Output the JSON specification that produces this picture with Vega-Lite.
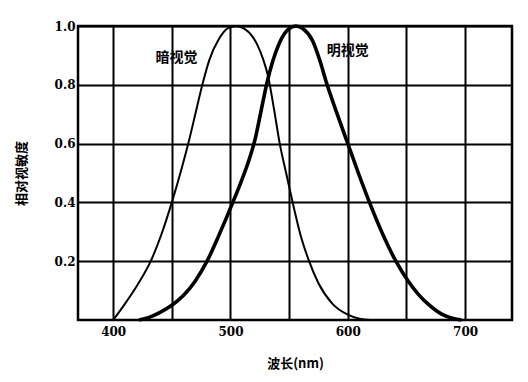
{
  "$schema": "https://vega.github.io/schema/vega-lite/v6.json",
  "width": 434,
  "height": 294,
  "autosize": {"type": "none"},
  "padding": {"left": 78, "top": 26, "right": 16, "bottom": 62},
  "background": "white",
  "config": {
    "view": {"stroke": "black", "strokeWidth": 2.5},
    "axis": {
      "domain": false,
      "ticks": false,
      "gridColor": "black",
      "gridOpacity": 1,
      "gridWidth": 2,
      "labelFont": "DejaVu Serif",
      "labelFontWeight": "bold",
      "labelFontSize": 12,
      "labelColor": "black",
      "titleFont": "Noto Sans CJK SC",
      "titleFontWeight": "bold",
      "titleFontSize": 13,
      "titleColor": "black"
    }
  },
  "layer": [
    {
      "data": {
        "values": [
          {"wl": 400, "v": 0, "curve": "暗视觉"},
          {"wl": 410, "v": 0.055, "curve": "暗视觉"},
          {"wl": 420, "v": 0.115, "curve": "暗视觉"},
          {"wl": 432, "v": 0.2, "curve": "暗视觉"},
          {"wl": 441, "v": 0.29, "curve": "暗视觉"},
          {"wl": 450, "v": 0.4, "curve": "暗视觉"},
          {"wl": 458, "v": 0.51, "curve": "暗视觉"},
          {"wl": 464, "v": 0.6, "curve": "暗视觉"},
          {"wl": 470, "v": 0.7, "curve": "暗视觉"},
          {"wl": 476, "v": 0.8, "curve": "暗视觉"},
          {"wl": 482, "v": 0.885, "curve": "暗视觉"},
          {"wl": 490, "v": 0.955, "curve": "暗视觉"},
          {"wl": 498, "v": 0.993, "curve": "暗视觉"},
          {"wl": 505, "v": 1.0, "curve": "暗视觉"},
          {"wl": 512, "v": 0.99, "curve": "暗视觉"},
          {"wl": 518, "v": 0.968, "curve": "暗视觉"},
          {"wl": 523, "v": 0.935, "curve": "暗视觉"},
          {"wl": 528, "v": 0.885, "curve": "暗视觉"},
          {"wl": 532, "v": 0.83, "curve": "暗视觉"},
          {"wl": 537, "v": 0.72, "curve": "暗视觉"},
          {"wl": 542, "v": 0.6, "curve": "暗视觉"},
          {"wl": 548, "v": 0.49, "curve": "暗视觉"},
          {"wl": 553, "v": 0.4, "curve": "暗视觉"},
          {"wl": 560, "v": 0.285, "curve": "暗视觉"},
          {"wl": 567, "v": 0.2, "curve": "暗视觉"},
          {"wl": 575, "v": 0.125, "curve": "暗视觉"},
          {"wl": 587, "v": 0.055, "curve": "暗视觉"},
          {"wl": 600, "v": 0.018, "curve": "暗视觉"},
          {"wl": 610, "v": 0.004, "curve": "暗视觉"},
          {"wl": 619, "v": 0, "curve": "暗视觉"},
          {"wl": 422, "v": 0, "curve": "明视觉"},
          {"wl": 430, "v": 0.008, "curve": "明视觉"},
          {"wl": 440, "v": 0.026, "curve": "明视觉"},
          {"wl": 450, "v": 0.05, "curve": "明视觉"},
          {"wl": 460, "v": 0.084, "curve": "明视觉"},
          {"wl": 470, "v": 0.133, "curve": "明视觉"},
          {"wl": 480, "v": 0.2, "curve": "明视觉"},
          {"wl": 490, "v": 0.287, "curve": "明视觉"},
          {"wl": 502, "v": 0.4, "curve": "明视觉"},
          {"wl": 510, "v": 0.48, "curve": "明视觉"},
          {"wl": 515, "v": 0.535, "curve": "明视觉"},
          {"wl": 521, "v": 0.615, "curve": "明视觉"},
          {"wl": 526, "v": 0.71, "curve": "明视觉"},
          {"wl": 531, "v": 0.805, "curve": "明视觉"},
          {"wl": 536, "v": 0.88, "curve": "明视觉"},
          {"wl": 542, "v": 0.945, "curve": "明视觉"},
          {"wl": 549, "v": 0.988, "curve": "明视觉"},
          {"wl": 556, "v": 1.0, "curve": "明视觉"},
          {"wl": 562, "v": 0.99, "curve": "明视觉"},
          {"wl": 570, "v": 0.95, "curve": "明视觉"},
          {"wl": 576, "v": 0.885, "curve": "明视觉"},
          {"wl": 582, "v": 0.805, "curve": "明视觉"},
          {"wl": 591, "v": 0.7, "curve": "明视觉"},
          {"wl": 600, "v": 0.6, "curve": "明视觉"},
          {"wl": 609, "v": 0.5, "curve": "明视觉"},
          {"wl": 619, "v": 0.395, "curve": "明视觉"},
          {"wl": 630, "v": 0.29, "curve": "明视觉"},
          {"wl": 641, "v": 0.2, "curve": "明视觉"},
          {"wl": 651, "v": 0.135, "curve": "明视觉"},
          {"wl": 660, "v": 0.088, "curve": "明视觉"},
          {"wl": 669, "v": 0.052, "curve": "明视觉"},
          {"wl": 680, "v": 0.02, "curve": "明视觉"},
          {"wl": 690, "v": 0.005, "curve": "明视觉"},
          {"wl": 697, "v": 0, "curve": "明视觉"}
        ]
      },
      "mark": {"type": "line", "interpolate": "monotone", "color": "black"},
      "encoding": {
        "x": {
          "field": "wl",
          "type": "quantitative",
          "scale": {"domain": [370, 740], "nice": false, "zero": false},
          "axis": {
            "values": [400, 450, 500, 550, 600, 650, 700],
            "labelExpr": "datum.value % 100 == 0 ? datum.label : ''",
            "labelPadding": 6,
            "title": "波长(nm)",
            "titlePadding": 20
          }
        },
        "y": {
          "field": "v",
          "type": "quantitative",
          "scale": {"domain": [0, 1], "nice": false},
          "axis": {
            "values": [0.2, 0.4, 0.6, 0.8, 1.0],
            "format": ".1f",
            "labelPadding": 3,
            "title": "相对视敏度",
            "titlePadding": 26
          }
        },
        "detail": {"field": "curve"},
        "strokeWidth": {
          "field": "curve",
          "type": "nominal",
          "scale": {"domain": ["暗视觉", "明视觉"], "range": [2, 3.6]},
          "legend": null
        }
      }
    },
    {
      "data": {
        "values": [
          {"wl": 454, "v": 0.89, "label": "暗视觉"},
          {"wl": 600, "v": 0.915, "label": "明视觉"}
        ]
      },
      "mark": {"type": "text", "font": "Noto Sans CJK SC", "fontSize": 14, "fontWeight": "bold", "color": "black"},
      "encoding": {
        "x": {"field": "wl", "type": "quantitative"},
        "y": {"field": "v", "type": "quantitative"},
        "text": {"field": "label"}
      }
    }
  ]
}
